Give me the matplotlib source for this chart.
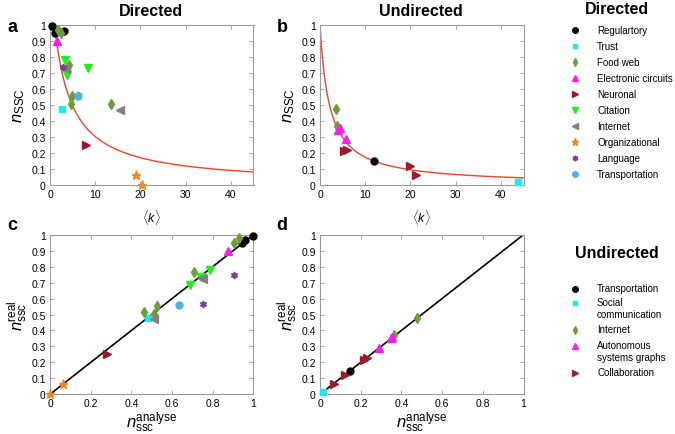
import matplotlib
matplotlib.use("Agg")
import matplotlib.pyplot as plt
import numpy as np

plt.rcParams['font.family'] = ['Liberation Sans', 'DejaVu Sans']
plt.rcParams['mathtext.fontset'] = 'custom'
plt.rcParams['mathtext.rm'] = 'Liberation Sans'
plt.rcParams['mathtext.it'] = 'Liberation Sans:italic'
plt.rcParams['mathtext.bf'] = 'Liberation Sans:bold'

# ---------------- data: directed networks ----------------
dir_names = ["Regulartory", "Trust", "Food web", "Electronic circuits", "Neuronal",
             "Citation", "Internet", "Organizational", "Language", "Transportation"]
dir_markers = ["o", "s", "d", "^", ">", "v", "<", "*", (6, 1, 0), "o"]
dir_colors = ["#000000", "#22e6f2", "#6f9c3a", "#ff1cf0", "#9c1a30",
              "#22ee22", "#808080", "#e8892b", "#7b3f98", "#4fb3e6"]

# panel a: mean degree <k> and n_SSC
a_k = {
    "Regulartory": [0.55, 1.1, 3.2],
    "Trust": [2.7],
    "Food web": [1.7, 2.43, 4.2, 4.93, 4.58, 13.56],
    "Electronic circuits": [1.48],
    "Neuronal": [7.9],
    "Citation": [3.3, 3.83, 8.47],
    "Internet": [3.47, 15.5],
    "Organizational": [18.95, 20.3],
    "Language": [2.94, 6.1],
    "Transportation": [6.27],
}
a_n = {
    "Regulartory": [0.99, 0.95, 0.96],
    "Trust": [0.474],
    "Food web": [0.965, 0.95, 0.75, 0.553, 0.505, 0.505],
    "Electronic circuits": [0.9],
    "Neuronal": [0.25],
    "Citation": [0.778, 0.684, 0.732],
    "Internet": [0.726, 0.468],
    "Organizational": [0.062, 0.0],
    "Language": [0.736, 0.56],
    "Transportation": [0.557],
}

# panel c: n_ssc analyse vs real
c_analyse = {
    "Regulartory": [0.997, 0.958, 0.945],
    "Trust": [0.48],
    "Food web": [0.46, 0.513, 0.525, 0.709, 0.903, 0.93],
    "Electronic circuits": [0.873],
    "Neuronal": [0.279],
    "Citation": [0.69, 0.785, 0.74],
    "Internet": [0.51, 0.75, 0.745],
    "Organizational": [0.0, 0.064],
    "Language": [0.903, 0.75],
    "Transportation": [0.635],
}
c_real = {
    "Regulartory": [0.99, 0.965, 0.95],
    "Trust": [0.478],
    "Food web": [0.514, 0.503, 0.555, 0.764, 0.948, 0.979],
    "Electronic circuits": [0.9],
    "Neuronal": [0.25],
    "Citation": [0.685, 0.781, 0.734],
    "Internet": [0.47, 0.722, 0.73],
    "Organizational": [0.0, 0.065],
    "Language": [0.749, 0.566],
    "Transportation": [0.56],
}

# ---------------- data: undirected networks ----------------
und_names = ["Transportation", "Social\ncommunication", "Internet",
             "Autonomous\nsystems graphs", "Collaboration"]
und_markers = ["o", "s", "d", "^", ">"]
und_colors = ["#000000", "#22e6f2", "#6f9c3a", "#ff1cf0", "#9c1a30"]

b_k = [[11.9], [43.8], [3.49, 3.71], [4.07, 4.33, 5.71], [5.4, 5.93, 20.0, 21.3]]
b_n = [[0.148], [0.017], [0.474, 0.366], [0.345, 0.354, 0.29], [0.214, 0.22, 0.12, 0.064]]

d_analyse = [[0.148], [0.016], [0.364, 0.479], [0.29, 0.349, 0.355], [0.069, 0.125, 0.218, 0.229]]
d_real = [[0.148], [0.016], [0.372, 0.476], [0.288, 0.351, 0.356], [0.065, 0.121, 0.217, 0.227]]

# fitted theoretical curves n = A / (k + B)
curve_a_A, curve_a_B, curve_a_kmin = 3.9, 2.9, 1.33
curve_b_A, curve_b_B, curve_b_kmin = 2.1, 2.1, 0.0
k_max = 45

# ---------------- figure ----------------
W, H = 675, 435
fig = plt.figure(figsize=(W / 100, H / 100), dpi=100)

def px_axes(x0, y0, x1, y1):
    return fig.add_axes([x0 / W, 1 - y1 / H, (x1 - x0) / W, (y1 - y0) / H])

ax_a = px_axes(50, 25.7, 253.5, 186)
ax_b = px_axes(320, 25.7, 523.5, 186)
ax_c = px_axes(50, 235.7, 253.5, 395.3)
ax_d = px_axes(320, 235.7, 523.5, 395.3)

frame_col = "#9a9a9a"
for ax in (ax_a, ax_b, ax_c, ax_d):
    for s in ax.spines.values():
        s.set_color(frame_col)
        s.set_linewidth(0.8)
    ax.tick_params(direction="in", length=3, width=0.6, color=frame_col,
                   labelsize=7.5, top=True, right=True, pad=3)
    ax.set_ylim(0, 1)
    ax.set_yticks(np.arange(0, 1.01, 0.1))
    ax.set_yticklabels(["0"] + [f"{v:.1f}" for v in np.arange(0.1, 0.95, 0.1)] + ["1"])

ms = {"o": 5, "s": 4.3, "d": 4.8, "^": 5.5, ">": 5.5, "v": 5.5, "<": 5.5, "*": 6.5}

def msize(m):
    return ms.get(m, 5) if isinstance(m, str) else 5

# panel a
kk = np.linspace(curve_a_kmin, k_max, 300)
ax_a.plot(kk, curve_a_A / (kk + curve_a_B), color="#e8452a", lw=1.0, zorder=1)
for name, m, c in zip(dir_names, dir_markers, dir_colors):
    ax_a.plot(a_k[name], a_n[name], ls="none", marker=m, color=c, mec=c,
              ms=msize(m), zorder=3, clip_on=False)
ax_a.set_xlim(0, k_max)
ax_a.set_xticks([0, 10, 20, 30, 40])

# panel b
kk = np.linspace(curve_b_kmin, k_max, 600)
ax_b.plot(kk, curve_b_A / (kk + curve_b_B), color="#e8452a", lw=1.0, zorder=1)
for ks, ns, m, c in zip(b_k, b_n, und_markers, und_colors):
    ax_b.plot(ks, ns, ls="none", marker=m, color=c, mec=c, ms=msize(m), zorder=3, clip_on=False)
ax_b.set_xlim(0, k_max)
ax_b.set_xticks([0, 10, 20, 30, 40])

# panel c
ax_c.plot([0, 1], [0, 1], color="black", lw=1.2, zorder=1)
for name, m, c in zip(dir_names, dir_markers, dir_colors):
    ax_c.plot(c_analyse[name], c_real[name], ls="none", marker=m, color=c, mec=c,
              ms=msize(m), zorder=3, clip_on=False)
ax_c.set_xlim(0, 1)
ax_c.set_xticks([0, 0.2, 0.4, 0.6, 0.8, 1])
ax_c.set_xticklabels(["0", "0.2", "0.4", "0.6", "0.8", "1"])

# panel d
ax_d.plot([0, 1], [0, 1], color="black", lw=1.2, zorder=1)
for xs, ys, m, c in zip(d_analyse, d_real, und_markers, und_colors):
    ax_d.plot(xs, ys, ls="none", marker=m, color=c, mec=c, ms=msize(m), zorder=3, clip_on=False)
ax_d.set_xlim(0, 1)
ax_d.set_xticks([0, 0.2, 0.4, 0.6, 0.8, 1])
ax_d.set_xticklabels(["0", "0.2", "0.4", "0.6", "0.8", "1"])

# labels
for ax in (ax_a, ax_b):
    ax.set_xlabel(r"$\langle k\rangle$", fontsize=9, labelpad=6)
    ax.set_ylabel(r"$n_{\mathrm{SSC}}$", fontsize=12, labelpad=3)
for ax in (ax_c, ax_d):
    ax.set_xlabel(r"$n^{\mathrm{analyse}}_{\mathrm{ssc}}$", fontsize=12, labelpad=1)
    ax.set_ylabel(r"$n^{\mathrm{real}}_{\mathrm{ssc}}$", fontsize=12, labelpad=1)

fig.text(151 / W, 1 - 11 / H, "Directed", ha="center", va="center", fontsize=11.5, fontweight="bold")
fig.text(421 / W, 1 - 11 / H, "Undirected", ha="center", va="center", fontsize=11.5, fontweight="bold")
for lab, x, y in (("a", 12, 27), ("b", 282, 27), ("c", 12, 226), ("d", 282, 226)):
    fig.text(x / W, 1 - y / H, lab, ha="center", va="center", fontsize=13, fontweight="bold")

# legends (manual layout)
lax = fig.add_axes([0, 0, 1, 1])
lax.set_xlim(0, W)
lax.set_ylim(H, 0)
lax.axis("off")
mark_x, text_x = 575, 597
lax.text(617, 9, "Directed", ha="center", va="center", fontsize=11.5, fontweight="bold")
y0, dy = 31, 16.0
for i, (name, m, c) in enumerate(zip(dir_names, dir_markers, dir_colors)):
    y = y0 + i * dy
    lax.plot([mark_x], [y], marker=m, color=c, mec=c, ms=msize(m) * 0.8, ls="none")
    lax.text(text_x, y, name, ha="left", va="center", fontsize=7.0)

lax.text(617, 254, "Undirected", ha="center", va="center", fontsize=11.5, fontweight="bold")
und_y = [290, 304, 331, 347, 374]
for name, m, c, y in zip(und_names, und_markers, und_colors, und_y):
    lax.plot([mark_x], [y], marker=m, color=c, mec=c, ms=msize(m) * 0.8, ls="none")
    lax.text(text_x, y - 6, name, ha="left", va="top", fontsize=7.0, linespacing=1.25)

fig.savefig("out.png", dpi=100)
